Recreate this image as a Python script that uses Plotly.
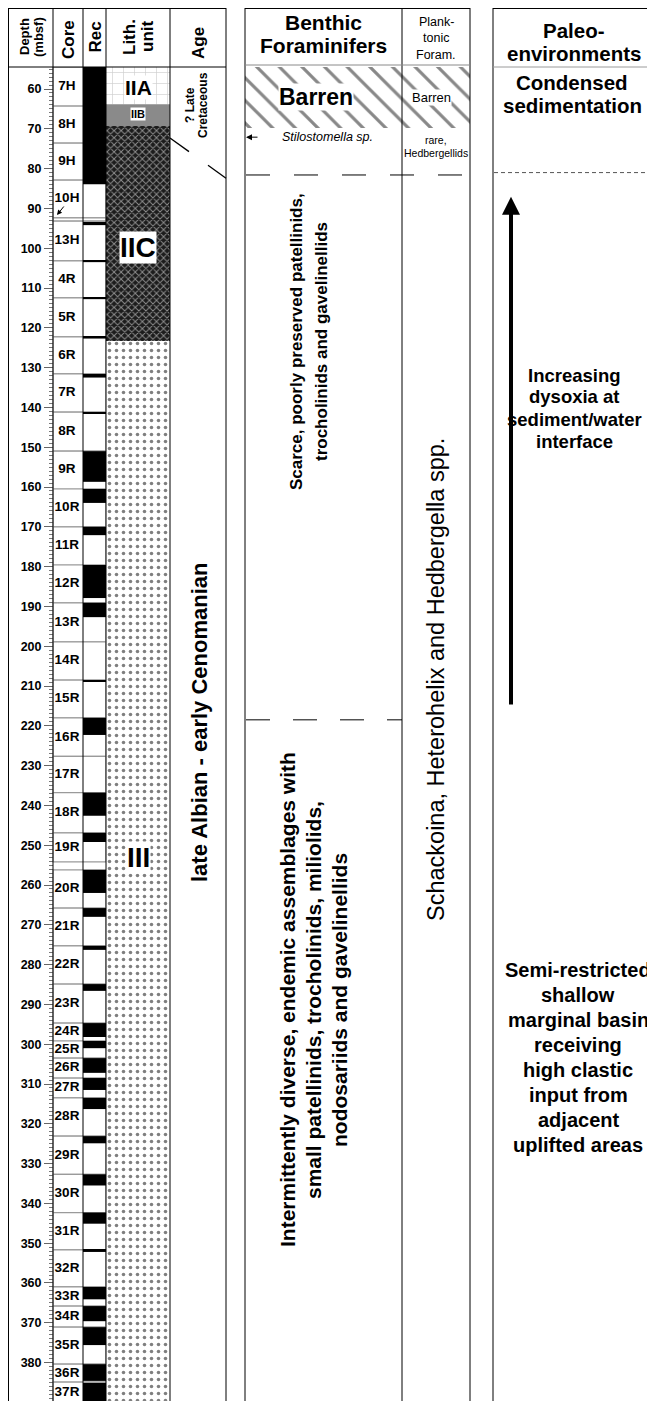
import plotly.graph_objects as go

W, H = 655, 1401
OFF = 8               # page offset of the figure (px)
HEAD = 67             # header bottom (screen px)
D_TOP, D_BOT = 54.47, 391.66

# ---------------- data ----------------
core_names = ["7H", "8H", "9H", "10H", "", "13H", "4R", "5R", "6R", "7R", "8R", "9R", "10R",
              "11R", "12R", "13R", "14R", "15R", "16R", "17R", "18R", "19R", "20R", "21R",
              "22R", "23R", "24R", "25R", "26R", "27R", "28R", "29R", "30R", "31R", "32R",
              "33R", "34R", "35R", "36R", "37R"]
core_top = [54.5, 64.3, 73.6, 82.9, 92.4, 93.2, 103.2, 112.5, 122.3, 131.6, 141.2, 151.0, 160.5,
            170.0, 179.6, 189.1, 198.9, 208.5, 218.0, 227.7, 236.8, 246.9, 256.2, 265.8,
            275.3, 284.9, 294.7, 299.2, 303.5, 308.5, 313.5, 323.1, 332.7, 342.3, 351.7,
            361.0, 365.8, 371.1, 380.4, 384.9]
core_bot = [64.3, 73.6, 82.9, 92.4, 93.2, 103.2, 112.5, 122.3, 131.6, 141.2, 151.0, 160.5, 170.0,
            179.6, 189.1, 198.9, 208.5, 218.0, 227.7, 236.8, 246.9, 254.2, 265.8, 275.3,
            284.9, 294.7, 299.2, 303.5, 308.5, 313.5, 323.1, 332.7, 342.3, 351.7, 361.0,
            365.8, 371.1, 380.4, 384.9, 390.0]
rec_top = [54.5, 93.4, 103.2, 112.5, 122.3, 131.6, 141.2, 151.0, 160.5, 170.0, 179.6, 189.1,
           208.5, 218.0, 236.8, 246.9, 256.2, 265.8, 275.3, 284.9, 294.7, 299.2, 303.5,
           308.5, 313.5, 323.1, 332.7, 342.3, 351.7, 361.0, 365.8, 371.1, 380.4, 385.1]
rec_bot = [83.9, 94.2, 103.5, 112.8, 122.7, 132.5, 141.5, 158.7, 164.0, 172.1, 187.9, 192.7,
           209.0, 222.3, 242.6, 249.2, 262.0, 268.0, 276.3, 286.6, 298.2, 301.0, 307.2,
           311.5, 316.3, 324.9, 335.5, 345.1, 352.2, 364.1, 369.6, 375.6, 384.6, 392.0]
lith_units = ["IIA", "IIB", "IIC", "III"]
lith_top = [54.47, 63.8, 69.3, 123.3]
lith_bot = [63.8, 69.3, 123.3, 392.0]
age_boundary = [72.3, 82.4]          # depth at left / right edge of Age column
barren_bottom = 69.8
stilostomella_depth = 72.1
benthic_bounds = [81.6, 218.5]
paleo_bound = 81.0
dysoxia_arrow = [215.0, 87.1]        # from, to (mbsf)
depth_ticks = list(range(60, 391, 10))

# ---------------- helpers ----------------
def py(ypx):
    """screen y (px) -> paper y"""
    return 1 - (ypx - OFF) / H

def d2px(d):
    return 89 + (d - 60) * 3.98

FONT = "Liberation Sans, Arial, sans-serif"

fig = go.Figure()

# core boxes (core + rec columns)
fig.add_trace(go.Bar(
    x=[79.5] * len(core_top), width=[53] * len(core_top),
    base=core_top, y=[b - t for t, b in zip(core_top, core_bot)],
    marker=dict(color="white", line=dict(color="#9a9a9a", width=1.2)),
    hoverinfo="skip", showlegend=False))

# recovery
fig.add_trace(go.Bar(
    x=[94.5] * len(rec_top), width=[23] * len(rec_top),
    base=rec_top, y=[b - t for t, b in zip(rec_top, rec_bot)],
    marker=dict(color="black", line=dict(width=0)),
    hoverinfo="skip", showlegend=False))

# lithology
lith_style = {
    "IIA": dict(color="white", pattern=dict(shape="+", fgcolor="#a0a0a0", bgcolor="white", size=11, solidity=0.12)),
    "IIB": dict(color="#8a8a8a"),
    "IIC": dict(color="#222", pattern=dict(shape="x", fgcolor="#ffffff", bgcolor="#1c1c1c", size=5, solidity=0.34)),
    "III": dict(color="white", pattern=dict(shape=".", fgcolor="#000000", bgcolor="white", size=7, solidity=0.2)),
}
for u, t, b in zip(lith_units, lith_top, lith_bot):
    m = lith_style[u]
    m["line"] = dict(width=0)
    fig.add_trace(go.Bar(x=[138], width=[64], base=[t], y=[b - t], marker=m,
                         hoverinfo="skip", showlegend=False))

# barren hatch (benthic + planktonic)
for xc, wd in [(323.5, 157), (436, 68)]:
    fig.add_trace(go.Bar(x=[xc], width=[wd], base=[D_TOP], y=[barren_bottom - D_TOP],
                         marker=dict(color="white", line=dict(width=0),
                                     pattern=dict(shape="\\", fgcolor="#111111", bgcolor="white",
                                                  size=16, solidity=0.2)),
                         hoverinfo="skip", showlegend=False))

# core labels
fig.add_trace(go.Scatter(
    x=[67] * len(core_names), y=[(t + b) / 2 for t, b in zip(core_top, core_bot)],
    text=core_names, mode="text", textposition="middle center",
    textfont=dict(family=FONT, size=13.5, color="black", weight="bold"),
    hoverinfo="skip", showlegend=False, cliponaxis=False))

# age boundary line (two segments)
a0, a1 = age_boundary
def age_y(x):
    return a0 + (x - 170) / (226 - 170) * (a1 - a0)
fig.add_trace(go.Scatter(
    x=[170, 189, None, 208, 226], y=[age_y(170), age_y(189), None, age_y(208), age_y(226)],
    mode="lines", line=dict(color="black", width=1.3), hoverinfo="skip", showlegend=False))

# ---------------- frame shapes ----------------
shapes = []
def vline(x, y0, y1, color="black", width=1):
    shapes.append(dict(type="line", xref="x", yref="paper", x0=x, x1=x, y0=py(y0), y1=py(y1),
                       line=dict(color=color, width=width)))
def hline(x0, x1, y, color="black", width=1):
    shapes.append(dict(type="line", xref="x", yref="paper", x0=x0, x1=x1, y0=py(y), y1=py(y),
                       line=dict(color=color, width=width)))

for x in [8.5, 53, 83, 106, 170, 226]:
    vline(x, 8, H + OFF)
hline(8, 226, 8.5)
hline(8, 226, HEAD)
for x in [245, 402, 470]:
    vline(x, 8, H + OFF)
hline(245, 470, 8.5)
hline(245, 470, 65, color="#8a8a8a")
vline(493, 8, H + OFF)
hline(493, 670, 8.5)
hline(493, 670, HEAD, color="#9a9a9a")

# zone boundaries (depth based)
shapes.append(dict(type="line", xref="x", yref="y", x0=246, x1=470, y0=benthic_bounds[0], y1=benthic_bounds[0],
                   line=dict(color="black", width=1, dash="24px,24px")))
shapes.append(dict(type="line", xref="x", yref="y", x0=246, x1=402, y0=benthic_bounds[1], y1=benthic_bounds[1],
                   line=dict(color="black", width=1, dash="24px,23px")))
shapes.append(dict(type="line", xref="x", yref="y", x0=494, x1=670, y0=paleo_bound, y1=paleo_bound,
                   line=dict(color="#555", width=1, dash="4px,3px")))

# ---------------- annotations ----------------
ann = []
def txt(x, ypx, s, size, bold=True, angle=0, bg=None, italic=False):
    ann.append(dict(x=x, y=py(ypx), xref="x", yref="paper", text=s, showarrow=False,
                    textangle=angle, xanchor="center", yanchor="middle",
                    font=dict(family=FONT, size=size, color="black",
                              weight="bold" if bold else "normal",
                              style="italic" if italic else "normal"),
                    bgcolor=bg, borderpad=0))

def rot_lines(xs, ypx, lines, size, bold=True):
    for x, s in zip(xs, lines):
        txt(x, ypx, s, size, bold=bold, angle=-90)

def hor_lines(x, ys, lines, size, bold=True):
    for y, s in zip(ys, lines):
        txt(x, y, s, size, bold=bold)

# header
rot_lines([24, 38], 37, ["Depth", "(mbsf)"], 13)
txt(68, 40, "Core", 17, angle=-90)
txt(94.5, 37, "Rec", 17, angle=-90)
rot_lines([129, 147], 37, ["Lith.", "unit"], 17)
txt(198, 43, "Age", 17, angle=-90)
hor_lines(323.5, [23, 45], ["Benthic", "Foraminifers"], 21)
hor_lines(436, [22, 38, 54.5], ["Plank-", "tonic", "Foram."], 12.5, bold=False)
hor_lines(574, [31, 54], ["Paleo-", "environments"], 20.5)

# lith labels
txt(138, 88, "IIA", 21, bg="white")
txt(138, 114, "IIB", 11, bg="white")
txt(138, 247, "IIC", 28, bg="white")
txt(138, 858, "III", 28, bg="white")

# age
rot_lines([190, 203], 105, ["? Late", "Cretaceous"], 12)
txt(199, 722, "late Albian - early Cenomanian", 22, angle=-90)

# benthic / planktonic
txt(316, 97, "Barren", 23, bg="white")
txt(431, 97, "Barren", 13, bold=False, bg="white")
txt(327, d2px(stilostomella_depth), "Stilostomella sp.", 12.5, bold=False, italic=True)
hor_lines(436, [140, 153], ["rare,", "Hedbergellids"], 10.5, bold=False)
rot_lines([297, 322], 342, ["Scarce, poorly preserved patellinids,",
                            "trocholinids and gavelinellids"], 17)
rot_lines([287, 313, 339], 1000, ["Intermittently diverse, endemic assemblages with",
                                  "small patellinids, trocholinids, miliolids,",
                                  "nodosariids and gavelinellids"], 21)
txt(436, 680, "Schackoina, Heterohelix and Hedbergella spp.", 23.5, bold=False, angle=-90)

# paleoenvironments
hor_lines(572, [82, 105.5], ["Condensed", "sedimentation"], 20.5)
hor_lines(574, [375, 397, 419, 441], ["Increasing", "dysoxia at", "sediment/water", "interface"], 18.5)
hor_lines(578, [970 + 25 * k for k in range(8)],
          ["Semi-restricted", "shallow", "marginal basin", "receiving", "high clastic",
           "input from", "adjacent", "uplifted areas"], 20)

# arrows
ann.append(dict(x=511, y=dysoxia_arrow[1], ax=511, ay=dysoxia_arrow[0], xref="x", yref="y",
                axref="x", ayref="y", text="", showarrow=True, arrowhead=2, arrowsize=0.9,
                arrowwidth=4, arrowcolor="black"))
ann.append(dict(x=246, y=stilostomella_depth, ax=259, ay=stilostomella_depth, xref="x", yref="y",
                axref="x", ayref="y", text="", showarrow=True, arrowhead=2, arrowsize=1.2,
                arrowwidth=1, arrowcolor="black"))
ann.append(dict(x=57, y=py(215), ax=8, ay=-10, xref="x", yref="paper",
                axref="pixel", ayref="pixel", text="", showarrow=True, arrowhead=2, arrowsize=1,
                arrowwidth=1, arrowcolor="black"))

fig.update_layout(
    width=W, height=H, autosize=False,
    margin=dict(l=0, r=0, t=0, b=0),
    paper_bgcolor="white", plot_bgcolor="white",
    barmode="overlay", showlegend=False,
    shapes=shapes, annotations=ann,
    xaxis=dict(range=[OFF, W + OFF], domain=[0, 1], visible=False, fixedrange=True),
    yaxis=dict(range=[D_BOT, D_TOP], domain=[0, 1 - (HEAD - OFF) / H], anchor="free",
               position=(53 - OFF) / W,
               side="left", showgrid=False, zeroline=False, showline=False, automargin=False,
               tickmode="array", tickvals=depth_ticks, ticktext=[str(v) for v in depth_ticks],
               ticks="outside", ticklen=9, tickwidth=1, tickcolor="#666",
               tickfont=dict(family=FONT, size=12.5, color="black", weight="bold"),
               minor=dict(dtick=1, tick0=0, ticks="outside", ticklen=4, tickwidth=1, tickcolor="#777"),
               fixedrange=True),
)

fig.write_html("out.html")
